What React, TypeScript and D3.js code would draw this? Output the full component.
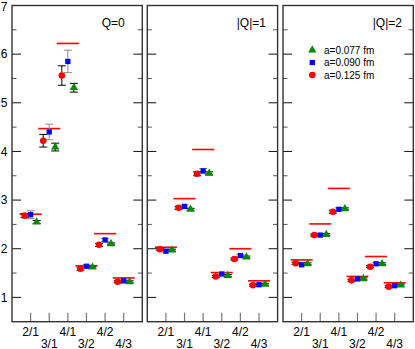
import React from "react";
import * as d3 from "d3";

const categories = ["2/1", "3/1", "4/1", "3/2", "4/2", "4/3"];
const panelTitles = ["Q=0", "|Q|=1", "|Q|=2"];
const yTicks = [1, 2, 3, 4, 5, 6, 7];
const yMinorTicks = [1, 1.5, 2, 2.5, 3, 3.5, 4, 4.5, 5, 5.5, 6, 6.5];

// reference (red horizontal lines)
const refQ0 = [2.71, 4.47, 6.22, 1.65, 2.31, 1.4];
const refQ1 = [2.03, 3.03, 4.04, 1.51, 2.0, 1.34];
const refQ2 = [1.77, 2.51, 3.24, 1.43, 1.84, 1.3];

// a=0.125 fm (red circles)
const a125Q0 = [2.68, 4.22, 5.56, 1.59, 2.08, 1.32];
const a125Q1 = [1.99, 2.84, 3.54, 1.43, 1.79, 1.25];
const a125Q2 = [1.7, 2.28, 2.76, 1.35, 1.63, 1.22];
const e125Q0 = [0.04, 0.13, 0.2, 0.03, 0.03, 0.02];
const e125Q1 = [0.02, 0.03, 0.04, 0.02, 0.02, 0.02];
const e125Q2 = [0.02, 0.02, 0.03, 0.02, 0.02, 0.02];

// a=0.090 fm (blue squares)
const a090Q0 = [2.7, 4.4, 5.85, 1.64, 2.18, 1.34];
const a090Q1 = [1.95, 2.87, 3.6, 1.48, 1.86, 1.26];
const a090Q2 = [1.67, 2.28, 2.81, 1.38, 1.69, 1.24];
const e090Q0 = [0.08, 0.16, 0.23, 0.03, 0.03, 0.02];
const e090Q1 = [0.02, 0.03, 0.05, 0.02, 0.02, 0.02];
const e090Q2 = [0.02, 0.02, 0.03, 0.02, 0.02, 0.02];

// a=0.077 fm (green triangles)
const a077Q0 = [2.55, 4.09, 5.31, 1.62, 2.1, 1.32];
const a077Q1 = [1.97, 2.81, 3.55, 1.45, 1.83, 1.27];
const a077Q2 = [1.69, 2.29, 2.82, 1.38, 1.69, 1.25];
const e077Q0 = [0.03, 0.08, 0.09, 0.02, 0.02, 0.02];
const e077Q1 = [0.02, 0.02, 0.03, 0.02, 0.02, 0.02];
const e077Q2 = [0.02, 0.02, 0.02, 0.02, 0.02, 0.02];

const legendLabels = ["a=0.077 fm", "a=0.090 fm", "a=0.125 fm"];

const panels = [
  { ref: refQ0, s: [a125Q0, a090Q0, a077Q0], e: [e125Q0, e090Q0, e077Q0] },
  { ref: refQ1, s: [a125Q1, a090Q1, a077Q1], e: [e125Q1, e090Q1, e077Q1] },
  { ref: refQ2, s: [a125Q2, a090Q2, a077Q2], e: [e125Q2, e090Q2, e077Q2] },
];

const RED = "#ff0000";
const BLUE = "#0000ff";
const GREEN = "#008a00";
const seriesStyle = [
  { color: RED, sym: d3.symbolCircle, size: 34, off: -6, errColor: "#000" },
  { color: BLUE, sym: d3.symbolSquare, size: 28, off: 0, errColor: "#888" },
  { color: GREEN, sym: d3.symbolTriangle, size: 30, off: 6, errColor: "#000" },
];

const W = 415;
const H = 349;
const panelLefts = [12, 147.3, 283];
const panelW = 130.3;
const top = 5.5;
const bottom = 321.7;
const titlePos = [101.7, 236.7, 372.7];
const FONT = "'Liberation Sans', Arial, Helvetica, sans-serif";

export default function App() {
  const y = d3.scaleLinear().domain([0.5, 7]).range([bottom, top]);
  return (
    <svg
      width={W}
      height={H}
      style={{ position: "absolute", left: 0, top: 0, background: "#fff" }}
      fontFamily={FONT}
    >
      {panels.map((p, pi) => {
        const x = d3
          .scaleLinear()
          .domain([0, 7])
          .range([panelLefts[pi], panelLefts[pi] + panelW]);
        const x0 = panelLefts[pi];
        const x1 = panelLefts[pi] + panelW;
        return (
          <g key={pi}>
            {/* minor y ticks */}
            {yMinorTicks.map((t) => {
              const major = Number.isInteger(t);
              const len = major ? 9 : 4.5;
              return (
                <g key={t} stroke={major ? "#111" : "#555"} strokeWidth={1}>
                  <line x1={x0} x2={x0 + len} y1={y(t)} y2={y(t)} />
                  <line x1={x1} x2={x1 - len} y1={y(t)} y2={y(t)} />
                </g>
              );
            })}
            {/* x ticks */}
            {categories.map((c, i) => (
              <line
                key={c}
                x1={x(i + 1)}
                x2={x(i + 1)}
                y1={bottom}
                y2={bottom - 9}
                stroke="#777"
                strokeWidth={1.2}
              />
            ))}
            {/* x tick labels */}
            {categories.map((c, i) => (
              <text
                key={c}
                x={x(i + 1)}
                y={i % 2 === 0 ? 335.7 : 347.5}
                fontSize={12}
                textAnchor="middle"
                fill="#000"
              >
                {c}
              </text>
            ))}
            {/* reference lines */}
            {p.ref.map((v, i) => (
              <line
                key={i}
                x1={x(i + 1) - 11}
                x2={x(i + 1) + 11}
                y1={y(v)}
                y2={y(v)}
                stroke={RED}
                strokeWidth={1.6}
              />
            ))}
            {/* error bars */}
            {p.s.map((vals, si) =>
              vals.map((v, i) => {
                const cx = x(i + 1) + seriesStyle[si].off;
                const err = p.e[si][i];
                const ya = y(v + err);
                const yb = y(v - err);
                return (
                  <g key={`${si}-${i}`} stroke={seriesStyle[si].errColor} strokeWidth={1}>
                    <line x1={cx} x2={cx} y1={ya} y2={yb} />
                    <line x1={cx - 4} x2={cx + 4} y1={ya} y2={ya} />
                    <line x1={cx - 4} x2={cx + 4} y1={yb} y2={yb} />
                  </g>
                );
              })
            )}
            {/* markers */}
            {p.s.map((vals, si) =>
              vals.map((v, i) => {
                const st = seriesStyle[si];
                const path = d3.symbol().type(st.sym).size(st.size)();
                return (
                  <path
                    key={`${si}-${i}`}
                    d={path || ""}
                    transform={`translate(${x(i + 1) + st.off},${y(v)})`}
                    fill={st.color}
                  />
                );
              })
            )}
            {/* frame */}
            <rect
              x={x0}
              y={top}
              width={panelW}
              height={bottom - top}
              fill="none"
              stroke="#333"
              strokeWidth={1.4}
            />
            <text x={titlePos[pi]} y={26.5} fontSize={12} fill="#000">
              {panelTitles[pi]}
            </text>
          </g>
        );
      })}
      {/* y tick labels */}
      {yTicks.map((t) => (
        <text
          key={t}
          x={7.5}
          y={y(t) + (t === 7 ? 5 : 4.3)}
          fontSize={12}
          textAnchor="end"
          fill="#000"
        >
          {t}
        </text>
      ))}
      {/* legend */}
      {[2, 1, 0].map((si, li) => {
        const st = seriesStyle[si];
        const ly = 50 + li * 12.5;
        const path = d3.symbol().type(st.sym).size(st.size)();
        return (
          <g key={si}>
            <path d={path || ""} transform={`translate(312.3,${ly})`} fill={st.color} />
            <text x={324} y={ly + 3.6} fontSize={10} fill="#000">
              {legendLabels[li]}
            </text>
          </g>
        );
      })}
    </svg>
  );
}
